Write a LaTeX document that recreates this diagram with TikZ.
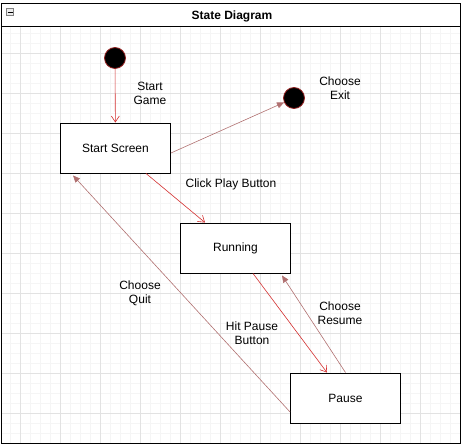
\documentclass[tikz,border=0pt]{standalone}
\usepackage{fontspec}
\setmainfont{Liberation Sans}
\usetikzlibrary{arrows.meta}

\definecolor{hotred}{HTML}{D32F2F}
\definecolor{dullred}{HTML}{B07070}
\definecolor{gridgray}{HTML}{E2E2E2}

\tikzset{
  statebox/.style={draw, line width=0.9pt, fill=white, minimum width=110pt, minimum height=50pt, inner sep=0pt},
  dot/.style={circle, draw=hotred!70!black, fill=black, line width=0.8pt, minimum size=21pt, inner sep=0pt},
  hotarrow/.style={draw=hotred, line width=0.6pt, -{Straight Barb[length=6pt,width=8pt]}},
  dullarrow/.style={draw=dullred, line width=0.6pt, -{Triangle[length=7pt,width=6pt]}},
  lbl/.style={align=center, font=\fontsize{12}{14}\selectfont, inner sep=0pt}
}

\begin{document}
\begin{tikzpicture}[x=1pt, y=-1pt]
\useasboundingbox (0,0) rectangle (463,446);
% grid
\begin{scope}
\clip (1,26) rectangle (460,443);
\foreach \x in {0,10,...,460} \draw[gridgray!35, line width=0.4pt] (\x,26) -- (\x,443);
\foreach \y in {23,33,...,443} \draw[gridgray!35, line width=0.4pt] (1,\y) -- (460,\y);
\foreach \x in {20,60,...,460} \draw[gridgray, line width=0.5pt] (\x,26) -- (\x,443);
\foreach \y in {13,53,...,443} \draw[gridgray, line width=0.5pt] (1,\y) -- (460,\y);
\end{scope}
% frame
\draw[line width=0.9pt] (1,3) rectangle (460,443);
\draw[line width=0.9pt] (1,26) -- (460,26);
\node[lbl, font=\bfseries\fontsize{12}{14}\selectfont] (title) at (232,16) {State Diagram};
\node[draw=gray, fill=gray!15, minimum size=7pt, inner sep=0pt, line width=0.5pt] (fold) at (10,12) {};
\draw[line width=0.6pt] ([xshift=-2.5pt]fold.center) -- ([xshift=2.5pt]fold.center);

% states
\node[dot] (init) at (115,58) {};
\node[dot] (final) at (294,98) {};
\node[statebox, lbl] (start) at (115.5,148) {Start Screen};
\node[statebox, lbl] (run) at (235.5,248) {Running};
\node[statebox, lbl] (pause) at (345.5,398) {Pause};

% transitions
\draw[hotarrow] (init) -- (start);
\draw[dullarrow] ([yshift=-5pt]start.east) -- (final);
\draw[hotarrow] ([xshift=30.5pt]start.south) -- ([xshift=-30.5pt]run.north);
\draw[hotarrow] ([xshift=17.5pt]run.south) -- ([xshift=-18.5pt]pause.north);
\draw[dullarrow] (pause.north) -- ([xshift=46.5pt,yshift=-2pt]run.south);
\draw[dullarrow] ([yshift=-14pt]pause.west) -- ([xshift=-42.5pt,yshift=-2pt]start.south);

% labels
\node[lbl] (lstart) at (150,93) {Start\\Game};
\node[lbl] (lexit) at (340,88) {Choose\\Exit};
\node[lbl] (lplay) at (231,184) {Click Play Button};
\node[lbl] (lhit) at (252,333) {Hit Pause\\Button};
\node[lbl] (lres) at (340,313) {Choose\\Resume};
\node[lbl] (lquit) at (140,293) {Choose\\Quit};
\end{tikzpicture}
\end{document}
